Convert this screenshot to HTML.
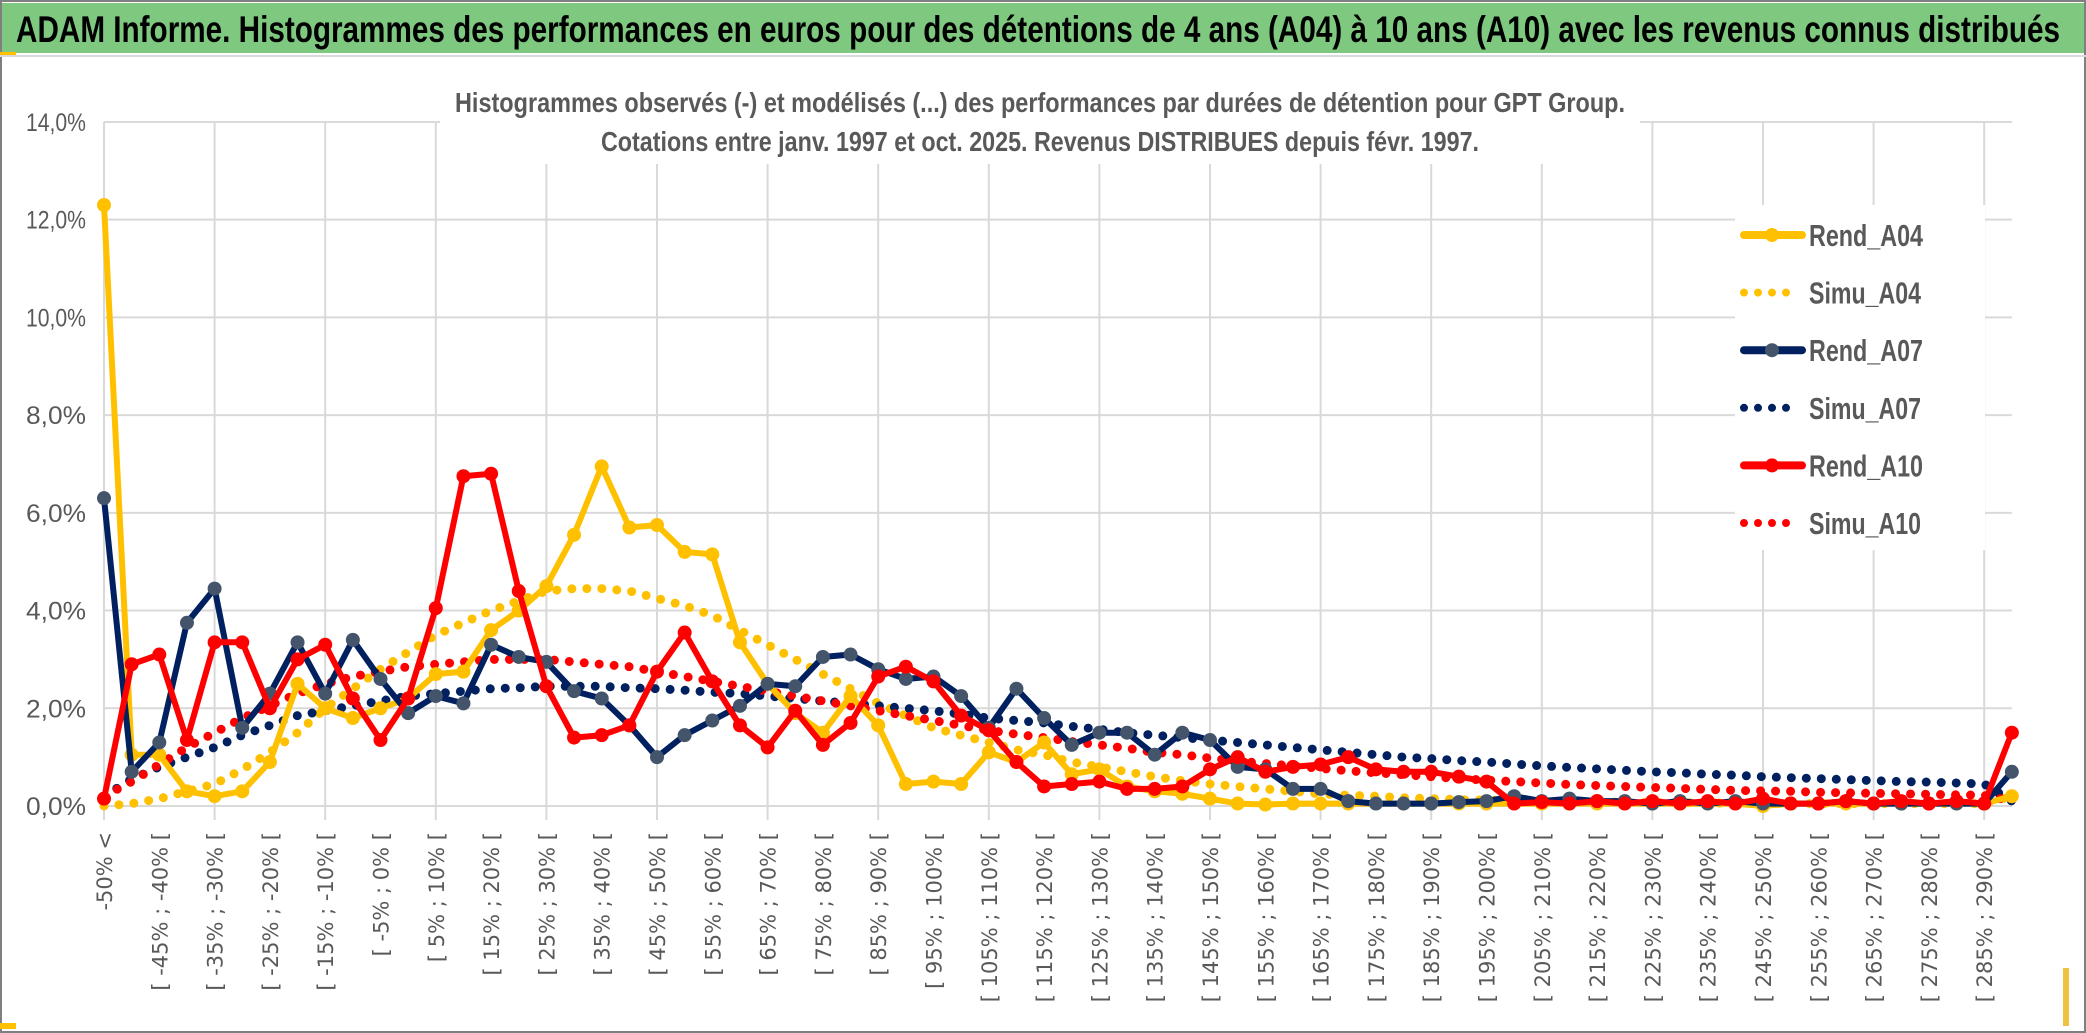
<!DOCTYPE html>
<html><head><meta charset="utf-8"><style>
html,body{margin:0;padding:0;background:#fff;}
svg{display:block;}
text{font-family:"Liberation Sans",sans-serif;}
</style></head><body>
<svg id="chart" width="2086" height="1033" viewBox="0 0 2086 1033" xmlns="http://www.w3.org/2000/svg">
<rect x="0" y="0" width="2086" height="1033" fill="#fff"/>
<rect x="1" y="1" width="2084" height="1031" fill="none" stroke="#7f7f7f" stroke-width="2"/>
<rect x="2" y="3" width="2082" height="50" fill="#7ec880"/>
<rect x="0" y="52" width="16" height="4" fill="#ffc000"/>
<rect x="0" y="1023" width="16" height="6" fill="#ffc000"/>
<rect x="2063" y="968" width="6" height="58" fill="#f0c040"/>
<line x1="0" y1="56" x2="2086" y2="56" stroke="#d9d9d9" stroke-width="2"/>
<text x="16" y="42" font-size="37" font-weight="bold" fill="#000" textLength="2044" lengthAdjust="spacingAndGlyphs">ADAM Informe. Histogrammes des performances en euros pour des détentions de 4 ans (A04) à 10 ans (A10) avec les revenus connus distribués</text>
<g id="grid"></g>
<g id="yaxis"></g>
<g id="xaxis"></g>
<rect x="440" y="72" width="1200" height="92" fill="#fff"/>
<text x="1040" y="112" font-size="28" font-weight="bold" fill="#595959" text-anchor="middle" textLength="1170" lengthAdjust="spacingAndGlyphs">Histogrammes observés (-) et modélisés (...) des performances par durées de détention pour GPT Group.</text>
<text x="1040" y="151" font-size="28" font-weight="bold" fill="#595959" text-anchor="middle" textLength="878" lengthAdjust="spacingAndGlyphs">Cotations entre janv. 1997 et oct. 2025. Revenus DISTRIBUES depuis févr. 1997.</text>
<g id="series"></g>
<g id="legend"></g>
</svg>
<script>
const categoriesCount = 70;
const yTicks = [0, 2, 4, 6, 8, 10, 12, 14];
const rendA04 = [12.3,1.05,1.05,0.3,0.2,0.3,0.9,2.5,2.0,1.8,2.0,2.2,2.7,2.75,3.6,4.0,4.5,5.55,6.95,5.7,5.75,5.2,5.15,3.35,2.5,1.9,1.5,2.25,1.65,0.45,0.5,0.45,1.1,0.9,1.3,0.65,0.75,0.4,0.3,0.25,0.15,0.05,0.03,0.05,0.05,0.05,0.05,0.05,0.05,0.05,0.05,0.05,0.05,0.05,0.05,0.05,0.05,0.05,0.05,0.05,0.0,0.05,0.05,0.05,0.05,0.05,0.05,0.05,0.05,0.2];
const simuA04 = [0.0,0.05,0.15,0.3,0.45,0.75,1.1,1.5,2.0,2.4,2.8,3.15,3.5,3.75,4.0,4.2,4.4,4.45,4.45,4.4,4.25,4.1,3.9,3.6,3.3,3.0,2.7,2.4,2.1,1.85,1.6,1.45,1.3,1.15,1.05,0.9,0.8,0.7,0.6,0.52,0.45,0.4,0.35,0.3,0.25,0.22,0.2,0.17,0.15,0.13,0.12,0.1,0.1,0.09,0.08,0.08,0.07,0.07,0.06,0.06,0.06,0.05,0.05,0.05,0.05,0.05,0.05,0.05,0.05,0.2];
const rendA07 = [6.3,0.7,1.3,3.75,4.45,1.6,2.3,3.35,2.3,3.4,2.6,1.9,2.25,2.1,3.3,3.05,2.95,2.35,2.2,1.65,1.0,1.45,1.75,2.05,2.5,2.45,3.05,3.1,2.8,2.6,2.65,2.25,1.6,2.4,1.8,1.25,1.5,1.5,1.05,1.5,1.35,0.8,0.75,0.35,0.35,0.1,0.05,0.05,0.05,0.08,0.1,0.2,0.1,0.15,0.1,0.1,0.05,0.1,0.05,0.1,0.05,0.05,0.05,0.1,0.05,0.05,0.05,0.05,0.05,0.7];
const simuA07 = [0.2,0.55,0.8,1.0,1.2,1.45,1.65,1.85,1.95,2.05,2.15,2.25,2.3,2.35,2.4,2.42,2.45,2.45,2.45,2.42,2.4,2.37,2.33,2.3,2.25,2.2,2.15,2.1,2.05,2.0,1.95,1.88,1.8,1.75,1.7,1.63,1.57,1.5,1.45,1.4,1.35,1.3,1.25,1.2,1.15,1.1,1.05,1.0,0.97,0.93,0.9,0.86,0.82,0.79,0.76,0.73,0.7,0.68,0.65,0.63,0.6,0.58,0.56,0.54,0.52,0.5,0.49,0.47,0.45,0.1];
const rendA10 = [0.15,2.9,3.1,1.35,3.35,3.35,2.0,3.0,3.3,2.2,1.35,2.2,4.05,6.75,6.8,4.4,2.45,1.4,1.45,1.65,2.75,3.55,2.55,1.65,1.2,1.95,1.25,1.7,2.65,2.85,2.55,1.85,1.55,0.9,0.4,0.45,0.5,0.35,0.35,0.4,0.75,1.0,0.7,0.8,0.85,1.0,0.75,0.7,0.7,0.6,0.5,0.05,0.08,0.05,0.1,0.05,0.1,0.05,0.1,0.05,0.15,0.05,0.05,0.1,0.05,0.1,0.05,0.1,0.05,1.5];
const simuA10 = [0.2,0.5,0.85,1.2,1.5,1.8,2.05,2.3,2.5,2.65,2.75,2.85,2.9,2.95,3.0,3.0,3.0,2.95,2.9,2.85,2.75,2.65,2.55,2.45,2.35,2.25,2.15,2.05,1.95,1.85,1.75,1.65,1.55,1.47,1.4,1.32,1.25,1.18,1.1,1.05,0.98,0.92,0.87,0.82,0.77,0.72,0.68,0.64,0.6,0.56,0.53,0.5,0.47,0.44,0.42,0.4,0.38,0.36,0.34,0.32,0.31,0.3,0.28,0.27,0.26,0.25,0.24,0.23,0.22,0.1];
const seriesNames = ["Rend_A04","Simu_A04","Rend_A07","Simu_A07","Rend_A10","Simu_A10"];

const NS = "http://www.w3.org/2000/svg";
const X0 = 104, DX = 27.65, Y0 = 806, PY = 48.86;
function xs(i){ return X0 + i*DX; }
function ys(v){ return Y0 - v*PY; }
function mk(tag, attrs, parent){ const e=document.createElementNS(NS,tag); for(const k in attrs) e.setAttribute(k,attrs[k]); parent.appendChild(e); return e; }

const grid = document.getElementById('grid');
const yaxis = document.getElementById('yaxis');
const xaxis = document.getElementById('xaxis');
const xEnd = xs(categoriesCount-1);
yTicks.forEach(t=>{
  const l = mk('line',{x1:X0,x2:xEnd,y1:ys(t),y2:ys(t),stroke:'#d9d9d9','stroke-width':2},grid);
  
  
  const tx = mk('text',{x:86,y:ys(t)+9,'font-size':25,fill:'#595959','text-anchor':'end',textLength:60,lengthAdjust:'spacingAndGlyphs'},yaxis);
  tx.textContent = t.toFixed(1).replace('.',',')+'%';
  
  
});
for(let i=0;i<categoriesCount;i+=4){
  const l = mk('line',{x1:xs(i),x2:xs(i),y1:ys(14),y2:Y0+14,stroke:'#d9d9d9','stroke-width':2},grid);
  
  
}
const categoryLabels = [];
for(let i=0;i<categoriesCount;i++){
  if(i===0) categoryLabels.push('-50% <');
  else { const a=-50+5*(i-1); categoryLabels.push('[ '+a+'% ; '+(a+5)+'% ['); }
}
categoryLabels.forEach((lab,i)=>{
  if(i%2!==0) return;
  const x = xs(i)+8, y = 832;
  const tx = mk('text',{x:x,y:y,'font-size':21,fill:'#595959','text-anchor':'end',transform:`rotate(-90 ${x} ${y})`,style:'font-family:"DejaVu Sans",sans-serif'},xaxis);
  tx.textContent = lab;
  
  
});

const series = document.getElementById('series');
function pts(arr){ return arr.map((v,i)=>xs(i).toFixed(1)+','+ys(v).toFixed(1)).join(' '); }
function dotted(arr,color,name){
  const p = mk('polyline',{points:pts(arr),fill:'none',stroke:color,'stroke-width':9,'stroke-linecap':'round','stroke-dasharray':'0 15'},series);
  
  
}
function solid(arr,color,markerColor,name){
  const g = mk('g',{},series);
  
  
  mk('polyline',{points:pts(arr),fill:'none',stroke:color,'stroke-width':6,'stroke-linejoin':'round'},g);
  arr.forEach((v,i)=>{
    const c = mk('circle',{cx:xs(i),cy:ys(v),r:7,fill:markerColor},g);
    
    
  });
}
dotted(simuA04,'#ffc000','simu-a04-line');
dotted(simuA07,'#002060','simu-a07-line');
dotted(simuA10,'#ff0000','simu-a10-line');
solid(rendA04,'#ffc000','#ffc000','rend-a04-line');
solid(rendA07,'#002060','#44546a','rend-a07-line');
solid(rendA10,'#ff0000','#ff0000','rend-a10-line');

const legend = document.getElementById('legend');
mk('rect',{x:1735,y:205,width:250,height:345,fill:'#fff'},legend);
const legColors = ['#ffc000','#ffc000','#002060','#002060','#ff0000','#ff0000'];
const legMarker = ['#ffc000',null,'#44546a',null,'#ff0000',null];
seriesNames.forEach((n,k)=>{
  const y = 235 + k*57.6;
  const g = mk('g',{},legend);
  
  
  if(legMarker[k]){
    mk('line',{x1:1744,x2:1802,y1:y,y2:y,stroke:legColors[k],'stroke-width':8,'stroke-linecap':'round'},g);
    mk('circle',{cx:1772,cy:y,r:7,fill:legMarker[k]},g);
  } else {
    mk('line',{x1:1744,x2:1795,y1:y,y2:y,stroke:legColors[k],'stroke-width':8,'stroke-linecap':'round','stroke-dasharray':'0 14'},g);
  }
  const t = mk('text',{x:1809,y:y+11,'font-size':31,'font-weight':'bold',fill:'#595959',textLength:n.startsWith('Rend')?114:112,lengthAdjust:'spacingAndGlyphs'},g);
  t.textContent = n;
});
</script>
</body></html>
